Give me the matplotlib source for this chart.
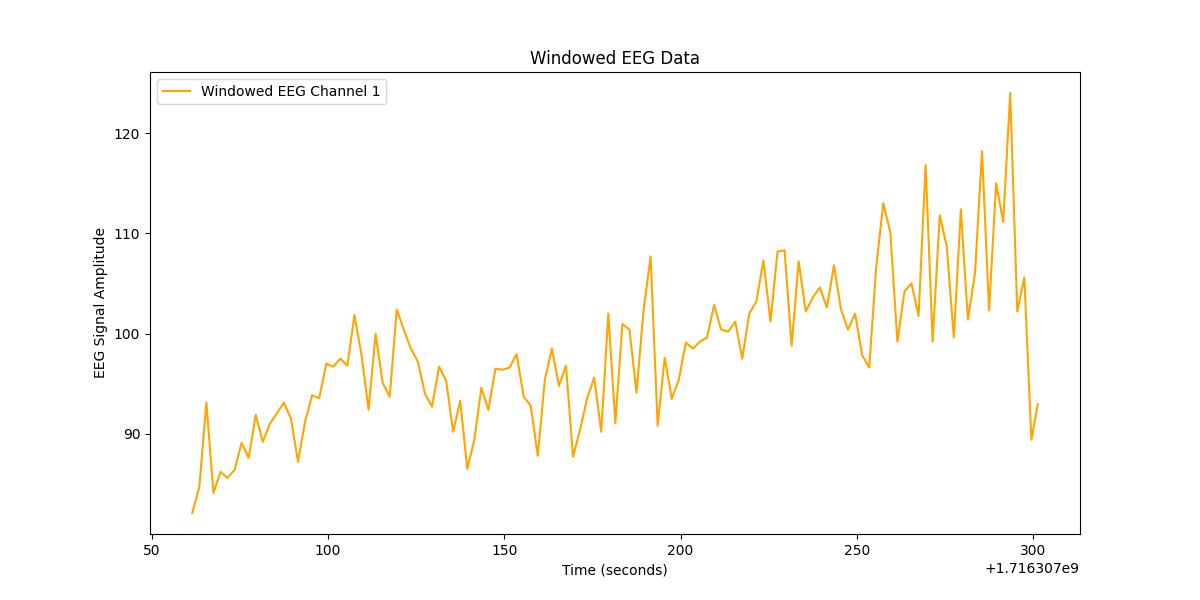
import numpy as np
import matplotlib
matplotlib.use("Agg")
import matplotlib.pyplot as plt

base_time = 1716307000.0
seconds = [61.5, 63.5, 65.5, 67.5, 69.5, 71.5, 73.5, 75.5, 77.5, 79.5,
           81.5, 83.5, 85.5, 87.5, 89.5, 91.5, 93.5, 95.5, 97.5, 99.5,
           101.5, 103.5, 105.5, 107.5, 109.5, 111.5, 113.5, 115.5, 117.5, 119.5,
           121.5, 123.5, 125.5, 127.5, 129.5, 131.5, 133.5, 135.5, 137.5, 139.5,
           141.5, 143.5, 145.5, 147.5, 149.5, 151.5, 153.5, 155.5, 157.5, 159.5,
           161.5, 163.5, 165.5, 167.5, 169.5, 171.5, 173.5, 175.5, 177.5, 179.5,
           181.5, 183.5, 185.5, 187.5, 189.5, 191.5, 193.5, 195.5, 197.5, 199.5,
           201.5, 203.5, 205.5, 207.5, 209.5, 211.5, 213.5, 215.5, 217.5, 219.5,
           221.5, 223.5, 225.5, 227.5, 229.5, 231.5, 233.5, 235.5, 237.5, 239.5,
           241.5, 243.5, 245.5, 247.5, 249.5, 251.5, 253.5, 255.5, 257.5, 259.5,
           261.5, 263.5, 265.5, 267.5, 269.5, 271.5, 273.5, 275.5, 277.5, 279.5,
           281.5, 283.5, 285.5, 287.5, 289.5, 291.5, 293.5, 295.5, 297.5, 299.5,
           301.3]

amplitude = [82.1, 84.7, 93.1, 84.1, 86.2, 85.6, 86.4, 89.1, 87.6, 91.9,
             89.2, 91.0, 92.05, 93.1, 91.5, 87.2, 91.2, 93.85, 93.55, 97.0,
             96.7, 97.5, 96.8, 101.85, 97.9, 92.4, 99.96, 95.1, 93.7, 102.4,
             100.4, 98.5, 97.2, 94.0, 92.7, 96.7, 95.3, 90.2, 93.3, 86.5,
             89.4, 94.6, 92.4, 96.5, 96.4, 96.6, 97.95, 93.7, 92.8, 87.8,
             95.4, 98.5, 94.8, 96.8, 87.7, 90.4, 93.55, 95.6, 90.2, 102.0,
             91.05, 100.95, 100.4, 94.1, 102.35, 107.7, 90.8, 97.6, 93.5, 95.4,
             99.1, 98.5, 99.2, 99.6, 102.85, 100.4, 100.2, 101.2, 97.5, 102.0,
             103.2, 107.3, 101.2, 108.2, 108.3, 98.8, 107.2, 102.2, 103.6, 104.6,
             102.6, 106.8, 102.4, 100.4, 102.0, 97.85, 96.6, 106.7, 113.0, 110.1,
             99.2, 104.2, 105.0, 101.75, 116.8, 99.2, 111.8, 108.7, 99.6, 112.4,
             101.4, 106.0, 118.2, 102.3, 115.0, 111.15, 124.0, 102.2, 105.6, 89.4,
             92.95]

times = [base_time + s for s in seconds]

fig, ax = plt.subplots(figsize=(12, 6), dpi=100)
ax.plot(times, amplitude, color="orange", label="Windowed EEG Channel 1")
ax.set_title("Windowed EEG Data")
ax.set_xlabel("Time (seconds)")
ax.set_ylabel("EEG Signal Amplitude")
ax.legend(loc="upper left")
fig.savefig("out.png")
